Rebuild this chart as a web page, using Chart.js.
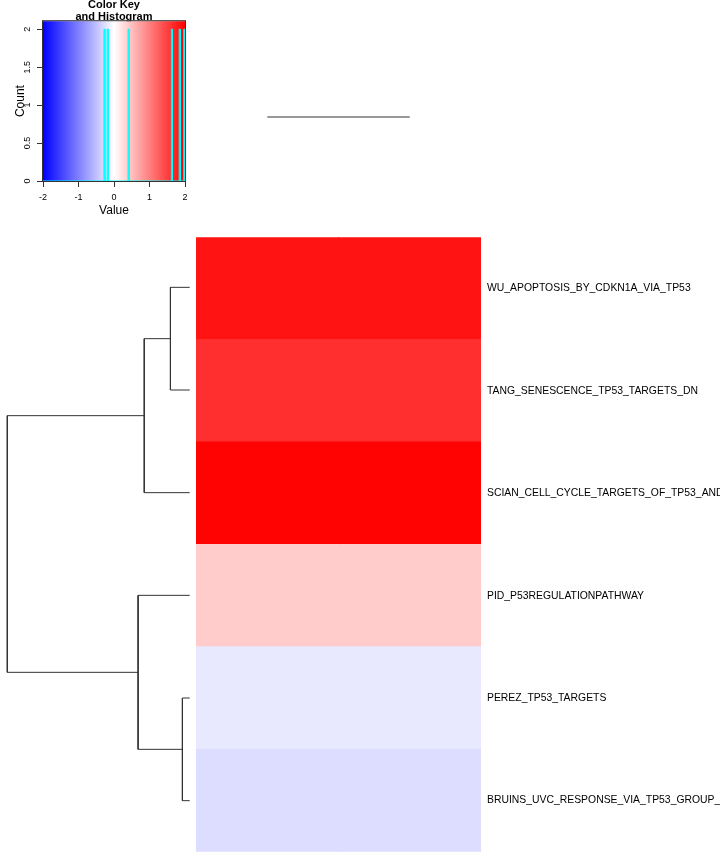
<!DOCTYPE html>
<html>
<head>
<meta charset="utf-8">
<script src="https://cdn.jsdelivr.net/npm/chart.js@4/dist/chart.umd.min.js"></script>
<style>
  html, body { margin: 0; padding: 0; background: #ffffff; }
  #wrap { position: relative; width: 720px; height: 864px; overflow: hidden; background: #ffffff; }
  .box { position: absolute; }
  canvas { display: block; }
</style>
</head>
<body>
<div id="wrap">
  <div class="box" style="left:0px;top:0px;"><canvas id="key" width="200" height="225"></canvas></div>
  <div class="box" style="left:196px;top:0px;"><canvas id="coldend" width="285" height="234"></canvas></div>
  <div class="box" style="left:0px;top:236px;"><canvas id="rowdend" width="197" height="616"></canvas></div>
  <div class="box" style="left:0px;top:225px;"><canvas id="heat" width="720" height="639"></canvas></div>
</div>
<script>
// ---------------- data ----------------
const rowLabels = [
  'WU_APOPTOSIS_BY_CDKN1A_VIA_TP53',
  'TANG_SENESCENCE_TP53_TARGETS_DN',
  'SCIAN_CELL_CYCLE_TARGETS_OF_TP53_AND_TP73_DN',
  'PID_P53REGULATIONPATHWAY',
  'PEREZ_TP53_TARGETS',
  'BRUINS_UVC_RESPONSE_VIA_TP53_GROUP_B'
];
const colNames = ['col1', 'col2'];
const col1Values = [1.85, 1.63, 1.98, 0.41, -0.18, -0.27];
const col2Values = [1.85, 1.63, 1.98, 0.41, -0.18, -0.27];

// row dendrogram (R-style merge: negative = leaf in display order, positive = earlier merge)
const rowMergeA = [-1, 1, -5, -4, 2];
const rowMergeB = [-2, -3, -6, 3, 4];
const rowMergeHeight = [0.335, 0.79, 0.127, 0.897, 3.17];

// column dendrogram
const colMergeA = [-1];
const colMergeB = [-2];
const colMergeHeight = [0];

// colour key + histogram
const keyColorStops = [-2, 0, 2];
const keyXTicks = [-2, -1, 0, 1, 2];
const keyYTicks = [0, 0.5, 1, 1.5, 2];
const histMids = [-0.27, -0.18, 0.41, 1.63, 1.85, 1.98];
const histCounts = [2, 2, 2, 2, 2, 2];
const histBinWidth = 0.03;

// ---------------- helpers ----------------
Chart.defaults.font.family = "'Liberation Sans', Arial, Helvetica, sans-serif";
Chart.defaults.color = '#000000';
Chart.defaults.animation = false;

function bluered(v) {
  const t = Math.max(-1, Math.min(1, v / 2));
  if (t < 0) { const c = Math.round(255 * (1 + t)); return 'rgb(' + c + ',' + c + ',255)'; }
  const c = Math.round(255 * (1 - t));
  return 'rgb(255,' + c + ',' + c + ')';
}

function dendroSegments(mA, mB, mH, horizontal) {
  const nodePos = [], nodeH = [];
  const get = (id) => id < 0 ? { p: (-id) - 1, h: 0 } : { p: nodePos[id - 1], h: nodeH[id - 1] };
  const lines = [];
  for (let i = 0; i < mA.length; i++) {
    const a = get(mA[i]), b = get(mB[i]), h = mH[i];
    nodePos.push((a.p + b.p) / 2); nodeH.push(h);
    const pts = [[a.h, a.p], [h, a.p], [h, b.p], [b.h, b.p]];
    lines.push(pts.map(q => horizontal ? { x: q[0], y: q[1] } : { x: q[1], y: q[0] }));
  }
  return lines;
}

const noPlugins = { legend: { display: false }, tooltip: { enabled: false }, title: { display: false } };

// ---------------- heatmap ----------------
const colValues = [col1Values, col2Values];
new Chart(document.getElementById('heat'), {
  type: 'bar',
  data: {
    labels: rowLabels,
    datasets: colNames.map((name, j) => ({
      label: name,
      data: colValues[j].map(() => [j, j + 1]),
      backgroundColor: colValues[j].map(bluered),
      borderWidth: 0,
      inflateAmount: 0.6,
      grouped: false,
      barPercentage: 1,
      categoryPercentage: 1
    }))
  },
  options: {
    responsive: false,
    indexAxis: 'y',
    plugins: noPlugins,
    layout: { padding: { left: 196, top: 11, bottom: 12, right: 0 } },
    scales: {
      x: { type: 'linear', min: 0, max: 2, display: false },
      y: {
        position: 'right',
        grid: { display: false, drawTicks: false },
        border: { display: false },
        ticks: { padding: 6, autoSkip: false, color: '#000', font: { size: 10.4 } },
        afterFit: (s) => { s.width = 239; }
      }
    }
  }
});

// ---------------- row dendrogram ----------------
const rowMaxH = Math.max(...rowMergeHeight);
new Chart(document.getElementById('rowdend'), {
  type: 'scatter',
  data: {
    datasets: dendroSegments(rowMergeA, rowMergeB, rowMergeHeight, true).map(pts => ({
      data: pts, showLine: true, borderColor: '#333333', borderWidth: 1, pointRadius: 0, tension: 0, fill: false
    }))
  },
  options: {
    responsive: false,
    plugins: noPlugins,
    layout: { padding: 0 },
    scales: {
      x: { type: 'linear', reverse: true, min: -0.04 * rowMaxH, max: 1.04 * rowMaxH, display: false },
      y: { type: 'linear', reverse: true, min: -0.5, max: rowLabels.length - 0.5, display: false }
    }
  }
});

// ---------------- column dendrogram ----------------
new Chart(document.getElementById('coldend'), {
  type: 'scatter',
  data: {
    datasets: dendroSegments(colMergeA, colMergeB, colMergeHeight, false).map(pts => ({
      data: pts, showLine: true, borderColor: '#333333', borderWidth: 1, pointRadius: 0, tension: 0, fill: false
    }))
  },
  options: {
    responsive: false,
    plugins: noPlugins,
    layout: { padding: 0 },
    scales: {
      x: { type: 'linear', min: -0.5, max: colNames.length - 0.5, display: false },
      y: { type: 'linear', min: -1, max: 1, display: false }
    }
  }
});

// ---------------- colour key + histogram ----------------
const histPoints = [{ x: keyColorStops[0], y: 0 }];
histMids.forEach((m, i) => {
  const a = m - histBinWidth / 2, b = m + histBinWidth / 2;
  histPoints.push({ x: a, y: 0 }, { x: a, y: histCounts[i] }, { x: b, y: histCounts[i] }, { x: b, y: 0 });
});
histPoints.push({ x: keyColorStops[keyColorStops.length - 1], y: 0 });

const keyPlugin = {
  id: 'keyBg',
  beforeDatasetsDraw(chart) {
    const { ctx, chartArea: a, scales } = chart;
    const x0 = scales.x.getPixelForValue(keyColorStops[0]);
    const x1 = scales.x.getPixelForValue(keyColorStops[keyColorStops.length - 1]);
    const g = ctx.createLinearGradient(x0, 0, x1, 0);
    keyColorStops.forEach(v => g.addColorStop((v - keyColorStops[0]) / (keyColorStops[keyColorStops.length - 1] - keyColorStops[0]), bluered(v)));
    ctx.save();
    ctx.fillStyle = g;
    ctx.fillRect(a.left, a.top, a.right - a.left, a.bottom - a.top);
    ctx.strokeStyle = '#333333';
    ctx.lineWidth = 1;
    ctx.strokeRect(a.left - 0.5, a.top - 0.5, a.right - a.left + 1, a.bottom - a.top + 1);
    ctx.restore();
  }
};

new Chart(document.getElementById('key'), {
  type: 'scatter',
  data: {
    datasets: [{
      data: histPoints, showLine: true, borderColor: '#00ffff', borderWidth: 1,
      pointRadius: 0, tension: 0, fill: false
    }]
  },
  plugins: [keyPlugin],
  options: {
    responsive: false,
    layout: { padding: { left: 0, top: 0, right: 15, bottom: 0 } },
    plugins: {
      legend: { display: false },
      tooltip: { enabled: false },
      title: {
        display: true,
        text: ['Color Key', 'and Histogram'],
        fullSize: false,
        color: '#000',
        font: { size: 11, weight: 'bold', lineHeight: 1.1 },
        padding: { top: -1, bottom: -2 }
      }
    },
    scales: {
      x: {
        type: 'linear', min: -2, max: 2, position: 'bottom',
        afterBuildTicks: (s) => { s.ticks = keyXTicks.map(v => ({ value: v })); },
        grid: { display: true, drawOnChartArea: false, drawTicks: true, tickLength: 6, color: '#333333' },
        border: { display: false },
        ticks: { padding: 5, color: '#000', font: { size: 9 }, maxRotation: 0, autoSkip: false, callback: (v) => String(v) },
        title: { display: true, text: 'Value', color: '#000', font: { size: 12 }, padding: { top: 0, bottom: 7 } },
        afterFit: (s) => { s.height = 44; }
      },
      y: {
        type: 'linear', min: 0, max: 2.105, position: 'left',
        afterBuildTicks: (s) => { s.ticks = keyYTicks.map(v => ({ value: v })); },
        grid: { display: true, drawOnChartArea: false, drawTicks: true, tickLength: 6, color: '#333333' },
        border: { display: false },
        ticks: { padding: 3, color: '#000', font: { size: 9 }, minRotation: 90, maxRotation: 90, crossAlign: 'center', autoSkip: false, callback: (v) => String(v) },
        title: { display: true, text: 'Count', color: '#000', font: { size: 12 }, padding: { top: 13, bottom: 0 } },
        afterFit: (s) => { s.width = 43; }
      }
    }
  }
});
</script>
</body>
</html>
